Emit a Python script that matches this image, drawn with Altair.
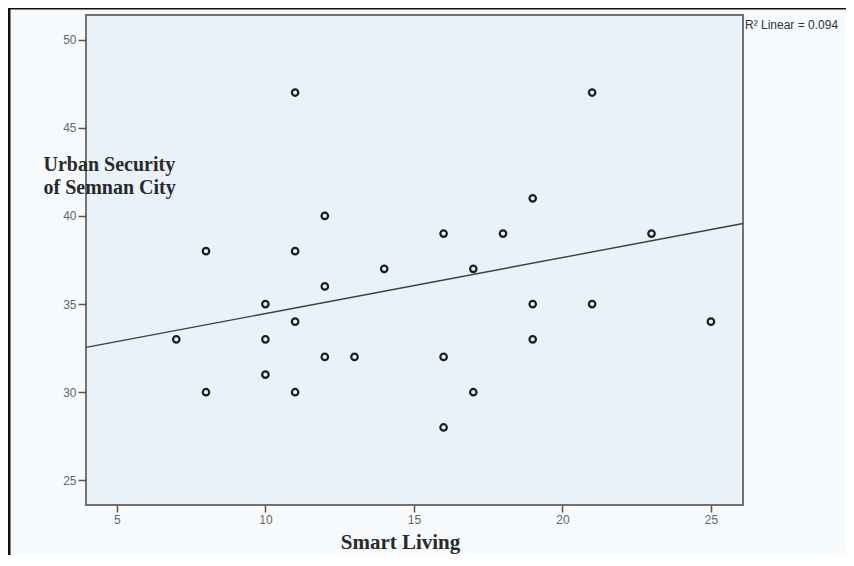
import altair as alt
import pandas as pd

# Values
smart_living = [11, 21, 19, 12, 8, 11, 16, 18, 23, 14, 17, 12, 10, 19, 21, 11, 25, 7,
                10, 19, 12, 13, 16, 10, 8, 11, 17, 16]
urban_security = [47, 47, 41, 40, 38, 38, 39, 39, 39, 37, 37, 36, 35, 35, 35, 34, 34, 33,
                  33, 33, 32, 32, 32, 31, 30, 30, 30, 28]
fit_x = [3.96, 26.08]
fit_y = [32.54, 39.57]
x_ticks = [5, 10, 15, 20, 25]
y_ticks = [25, 30, 35, 40, 45, 50]
x_domain = [3.96, 26.08]
y_domain = [23.6, 51.4]
r2_label = "R\u00b2 Linear = 0.094"
x_title = "Smart Living"
y_title = ["Urban Security", "of Semnan City"]

pts = pd.DataFrame({"x": smart_living, "y": urban_security})
fit = pd.DataFrame({"x": fit_x, "y": fit_y})
one = pd.DataFrame({"label": [r2_label]})

W, H = 657, 490

xscale = alt.Scale(domain=x_domain, nice=False, zero=False)
yscale = alt.Scale(domain=y_domain, nice=False, zero=False)

xaxis = alt.Axis(values=x_ticks, title=x_title, grid=False, domain=False,
                 tickSize=7, tickWidth=1.5, tickColor="#555", labelPadding=2,
                 labelFont="Liberation Sans", labelFontSize=12, labelColor="#666",
                 titleFont="Liberation Serif", titleFontSize=21, titleFontWeight="bold",
                 titleColor="#2a2a2a", titleBaseline="alphabetic", titleX=314, titleY=43,
                 titleAlign="center")
yaxis = alt.Axis(values=y_ticks, title=y_title, grid=False, domain=False,
                 tickSize=8, tickWidth=1.5, tickColor="#555", labelPadding=2,
                 labelFont="Liberation Sans", labelFontSize=12, labelColor="#666",
                 titleFont="Liberation Serif", titleFontSize=20, titleFontWeight="bold",
                 titleColor="#2a2a2a", titleAngle=0, titleAlign="left", titleBaseline="top",
                 titleX=-43, titleY=139, titleLineHeight=23)

points = alt.Chart(pts).mark_point(shape="circle", filled=False, size=42, strokeWidth=2.2,
                                   color="#1e1e1e", opacity=1).encode(
    x=alt.X("x:Q", scale=xscale, axis=xaxis),
    y=alt.Y("y:Q", scale=yscale, axis=yaxis),
)

line = alt.Chart(fit).mark_line(color="#3a3f44", strokeWidth=1.4).encode(
    x=alt.X("x:Q", scale=xscale),
    y=alt.Y("y:Q", scale=yscale),
)

r2 = alt.Chart(one).mark_text(align="left", baseline="middle", font="Liberation Sans",
                              fontSize=12, color="#333").encode(
    x=alt.value(W + 2), y=alt.value(10), text="label:N")

frame_left = alt.Chart(one).mark_rule(color="#111", strokeWidth=3).encode(
    x=alt.value(-77), y=alt.value(-8), y2=alt.value(H + 60))
frame_top = alt.Chart(one).mark_rule(color="#111", strokeWidth=3).encode(
    x=alt.value(-78), x2=alt.value(W + 110), y=alt.value(-7))

chart = alt.layer(line, points, r2, frame_left, frame_top).properties(
    width=W, height=H,
    autosize=alt.AutoSizeParams(type="none"),
    padding={"left": 78, "top": 7, "right": 103, "bottom": 50},
    background="#f6fafc",
).configure_view(
    fill="#e9f1f9", stroke="#6e7275", strokeWidth=2
)

chart.save("out.html", embed_options={"renderer": "svg", "actions": False})
